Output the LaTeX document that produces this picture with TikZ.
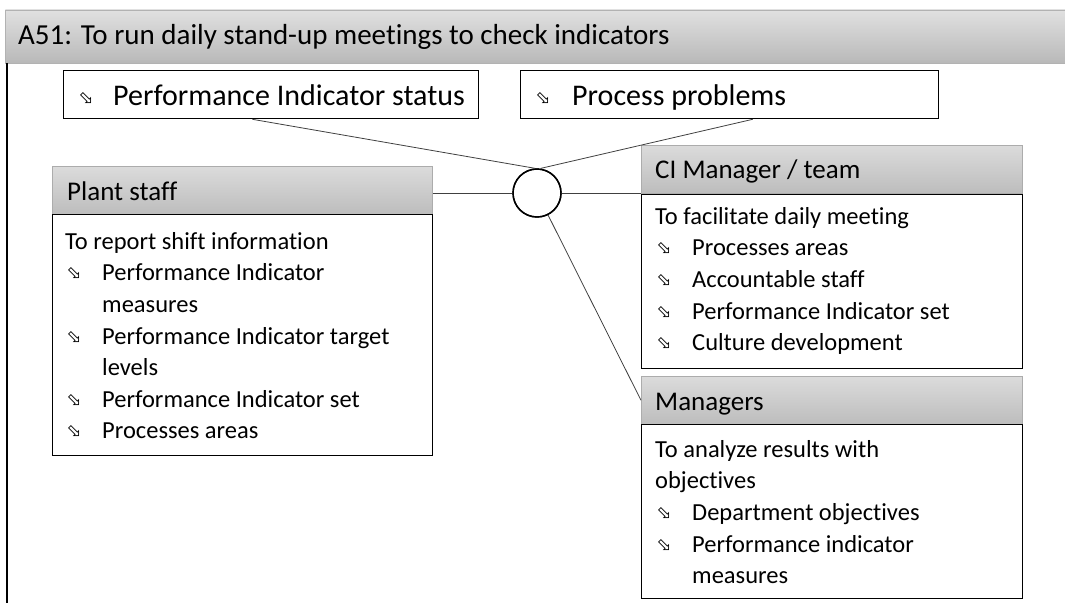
\documentclass[tikz,border=0pt]{standalone}
\usepackage{fontspec}
\usepackage{graphicx}
\setmainfont{Carlito}[Ligatures=NoCommon]
\newfontfamily\symfont{DejaVu Sans}
\usetikzlibrary{calc}
\newcommand\bulg{\raisebox{1pt}{\symfont\fontsize{18}{18}\selectfont\rotatebox[origin=c]{-45}{⇨}}}
\newcommand\bi[1]{\makebox[37pt][l]{\bulg}#1}
\newcommand\cont[1]{\hspace*{37pt}#1}
\begin{document}
\begin{tikzpicture}[x=1pt,y=-1pt,
  hdr/.style={draw=gray!65, line width=0.6pt, top color=gray!28, bottom color=gray!52, minimum width=380pt, minimum height=48pt, anchor=north west, inner sep=0pt},
  bodybox/.style={draw=black, line width=1.4pt, minimum width=380pt, anchor=north west, inner sep=0pt, fill=white},
  topbox/.style={draw=black, line width=1.3pt, minimum height=48pt, anchor=north west, inner sep=0pt},
  htxt/.style={font=\fontsize{27}{31}\selectfont, anchor=base west, inner sep=0pt},
  bigtxt/.style={font=\fontsize{30}{34}\selectfont, anchor=base west, inner sep=0pt},
  btxt/.style={font=\fontsize{24.5}{31.6}\selectfont, align=left, anchor=north west, inner sep=0pt},
  conn/.style={draw=black!75, line width=0.8pt}
]
\useasboundingbox (0,0) rectangle (1065,603);
% title bar
\node[draw=gray!60, line width=0.6pt, top color=gray!24, bottom color=gray!55, minimum width=1062pt, minimum height=53pt, anchor=north west, inner sep=0pt] (tb) at (5,9.5) {};
\node[bigtxt, font=\fontsize{29}{33}\selectfont] (tt) at (18,44) {A51: To run daily stand-up meetings to check indicators};
\coordinate (lb) at (6.5,603);
\draw[line width=2pt] (tb.south west -| lb) -- (lb);
% top boxes
\node[topbox, minimum width=415pt] (p1) at (63,70) {};
\node[bigtxt] (p1t) at (77,105) {\makebox[36pt][l]{\bulg}Performance Indicator status};
\node[topbox, minimum width=418pt] (p2) at (520,70) {};
\node[bigtxt] (p2t) at (534,105) {\makebox[38pt][l]{\bulg}Process problems};
% circle
\node[draw=black, line width=1.4pt, circle, minimum size=48pt, inner sep=0pt, fill=white] (circ) at (537,193) {};
% Plant staff
\node[hdr] (ph) at (52,166) {};
\node[htxt] (pht) at (67,200) {Plant staff};
\node[bodybox, minimum height=241pt] (pb) at (52,214) {};
\node[btxt] (pbt) at (65,227) {\rule{0pt}{22pt}To report shift information\\
\bi{Performance Indicator}\\
\cont{measures}\\
\bi{Performance Indicator target}\\
\cont{levels}\\
\bi{Performance Indicator set}\\
\bi{Processes areas}};
% CI Manager
\node[hdr, minimum width=381pt] (ch) at (641,145) {};
\node[htxt] (cht) at (655,178) {CI Manager / team};
\node[bodybox, minimum width=381pt, minimum height=174pt] (cb) at (641,194) {};
\node[btxt] (cbt) at (655,202) {\rule{0pt}{22pt}To facilitate daily meeting\\
\bi{Processes areas}\\
\bi{Accountable staff}\\
\bi{Performance Indicator set}\\
\bi{Culture development}};
% Managers
\node[hdr, minimum width=381pt] (mh) at (641,376) {};
\node[htxt] (mht) at (655,410) {Managers};
\node[bodybox, minimum width=381pt, minimum height=174pt] (mb) at (641,424) {};
\node[btxt] (mbt) at (655,435) {\rule{0pt}{22pt}To analyze results with\\
objectives\\
\bi{Department objectives}\\
\bi{Performance indicator}\\
\cont{measures}};
% connectors
\draw[conn] ($(p1.south west)!0.455!(p1.south east)$) -- ([xshift=-2pt]circ.north);
\draw[conn] ($(p2.south west)!0.555!(p2.south east)$) -- ([xshift=4pt]circ.north);
\draw[conn] (circ.west) -- (circ.west -| ph.east);
\draw[conn] (circ.east) -- (circ.east -| ch.west);
\draw[conn] (circ) -- (mh.west);
\node[draw=black, line width=1.4pt, circle, minimum size=48pt, inner sep=0pt] at (circ) {};
\end{tikzpicture}
\end{document}
